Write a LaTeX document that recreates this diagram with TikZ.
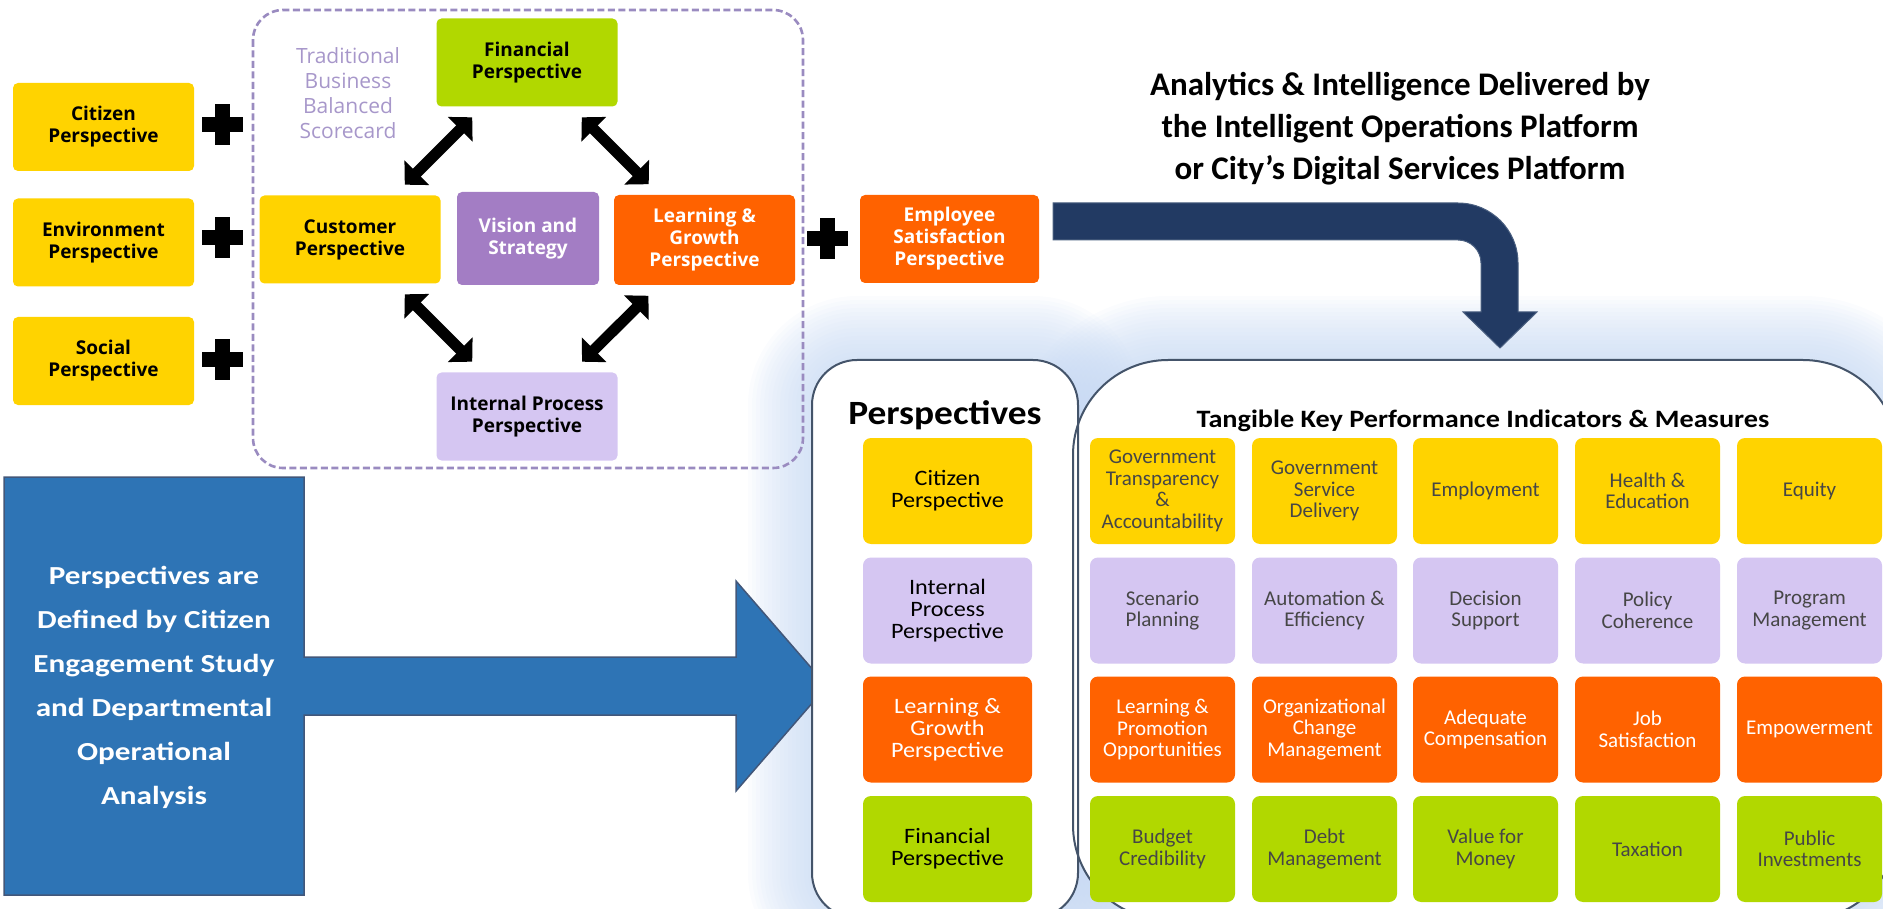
\documentclass[tikz,border=0pt]{standalone}
\usepackage{fontspec}
\setmainfont{Carlito}
\newfontfamily\osans{Open Sans}
\newfontfamily\calwide[FakeStretch=1.1]{Carlito}
\newfontfamily\calkpi[FakeStretch=1.13]{Carlito}
\newfontfamily\calblue[FakeStretch=1.2]{Carlito}
\usetikzlibrary{arrows.meta}

\definecolor{bscyellow}{HTML}{FFD300}
\definecolor{bscgreen}{HTML}{B1D800}
\definecolor{bscorange}{HTML}{FF6200}
\definecolor{bsclilac}{HTML}{D5C6F2}
\definecolor{bscpurple}{HTML}{A37DC4}
\definecolor{tradtext}{HTML}{A797CA}
\definecolor{dashline}{HTML}{9A8BC0}
\definecolor{kpitext}{HTML}{464646}
\definecolor{panelline}{HTML}{44546A}
\definecolor{glowblue}{HTML}{C3D6F2}
\definecolor{navyarrow}{HTML}{223A63}
\definecolor{navyline}{HTML}{4A5F80}
\definecolor{callblue}{HTML}{2E74B5}
\definecolor{callline}{HTML}{42577A}

\tikzset{
	bscbox/.style={rectangle, rounded corners=5pt, minimum width=181pt, minimum height=88pt,
		inner sep=0pt, align=center, font=\osans\bfseries\fontsize{19}{22}\selectfont},
	kpibox/.style={rectangle, rounded corners=8pt, minimum width=145pt, minimum height=106pt,
		inner sep=0pt, align=center, text=kpitext, font=\fontsize{21}{21.5}\selectfont},
	perbox/.style={kpibox, minimum width=169pt, text=black, font=\calwide\fontsize{22}{22}\selectfont},
	dblarrow/.style={line width=11pt, {Triangle[width=34pt,length=17pt]}-{Triangle[width=34pt,length=17pt]},
		shorten <=15pt, shorten >=15pt},
	pics/plussign/.style={code={
		\fill (-20.5,-7.5) rectangle (20.5,7.5);
		\fill (-7.5,-20.5) rectangle (7.5,20.5);
	}}
}

\begin{document}
\begin{tikzpicture}[x=1pt,y=-1pt]
	\useasboundingbox (0,0) rectangle (1883,909);
	\clip (0,0) rectangle (1883,909);

	% soft glow behind the panels
	\foreach \d in {4,8,...,64} {
		\pgfmathsetmacro\rca{45+\d}
		\pgfmathsetmacro\rcb{95+\d}
		\fill[glowblue, opacity=0.065, rounded corners=\rca pt] ({812-\d},{360-\d}) rectangle ({1078+\d},{918+\d});
		\fill[glowblue, opacity=0.065, rounded corners=\rcb pt] ({1073-\d},{360-\d}) rectangle ({1898+\d},{920+\d});
	}

	% balanced scorecard
	\draw[dashline, line width=2.6pt, dash pattern=on 7pt off 3.5pt, rounded corners=30pt] (253,10) rectangle (803,468);
	\node[text=tradtext, align=center, font=\osans\fontsize{21}{25}\selectfont] (trad) at (348,93) {Traditional\\Business\\Balanced\\Scorecard};

	\begin{scope}[every node/.style={bscbox}]
		\node[fill=bscyellow] (citizen) at (103.5,127) {Citizen\\Perspective};
		\node[fill=bscyellow] (environ) at (103.5,242.5) {Environment\\Perspective};
		\node[fill=bscyellow] (social) at (103.5,361) {Social\\Perspective};
		\node[fill=bscgreen] (fin) at (527,62.5) {Financial\\Perspective};
		\node[fill=bscyellow] (cust) at (350,239.5) {Customer\\Perspective};
		\node[fill=bscpurple, text=white, minimum width=142pt, minimum height=93pt] (vision) at (528,238.5) {Vision and\\Strategy};
		\node[fill=bscorange, text=white, minimum height=90pt] (learn) at (704.5,240) {Learning \&\\Growth\\Perspective};
		\node[fill=bsclilac] (internal) at (527,416.5) {Internal Process\\Perspective};
		\node[fill=bscorange, text=white, minimum width=179pt] (employee) at (949.5,239) {Employee\\Satisfaction\\Perspective};
	\end{scope}

	\draw[dblarrow] (fin) -- (cust);
	\draw[dblarrow] (fin) -- (learn);
	\draw[dblarrow] (cust) -- (internal);
	\draw[dblarrow] (learn) -- (internal);

	\pic at (222,125) {plussign};
	\pic at (222,238) {plussign};
	\pic at (222,360) {plussign};
	\pic at (827,239) {plussign};

	% platform arrow
	\node[font=\bfseries\fontsize{33}{42}\selectfont, align=center] (platform) at (1400,129)
		{Analytics \& Intelligence Delivered by\\the Intelligent Operations Platform\\or City’s Digital Services Platform};
	\draw[navyline, fill=navyarrow, line width=1pt] (1053,203) -- (1458,203) arc[start angle=-90, end angle=0, radius=60]
		-- (1518,312) -- (1537,312) -- (1500,348) -- (1463,312) -- (1481,312) -- (1481,263)
		arc[start angle=0, end angle=-90, radius=23] -- (1053,240) -- cycle;

	% citizen engagement callout
	\draw[callline, fill=callblue, line width=1.5pt] (4,477) -- (304,477) -- (304,657) -- (736,657) -- (736,581)
		-- (827,686) -- (736,791) -- (736,715) -- (304,715) -- (304,895) -- (4,895) -- cycle;
	\node[text=white, align=center, font=\calblue\bfseries\fontsize{26}{44}\selectfont] (engage) at (154,687)
		{Perspectives are\\Defined by Citizen\\Engagement Study\\and Departmental\\Operational\\Analysis};

	% panels
	\fill[white, rounded corners=45pt] (812,360) rectangle (1078,918);
	\fill[white, rounded corners=95pt] (1073,360) rectangle (1898,920);
	\draw[panelline, line width=2pt, rounded corners=45pt] (812,360) rectangle (1078,918);
	\draw[panelline, line width=2pt, rounded corners=95pt] (1073,360) rectangle (1898,920);

	\node[font=\calwide\bfseries\fontsize{34}{34}\selectfont] (pertitle) at (945,415) {Perspectives};
	\node[font=\calkpi\bfseries\fontsize{25}{25}\selectfont] (kpititle) at (1483,421) {Tangible Key Performance Indicators \& Measures};

	\begin{scope}[every node/.style={perbox}]
		\node[fill=bscyellow] (p1) at (947.5,491) {Citizen\\Perspective};
		\node[fill=bsclilac] (p2) at (947.5,610.5) {Internal\\Process\\Perspective};
		\node[fill=bscorange, text=white] (p3) at (947.5,729.5) {Learning \&\\Growth\\Perspective};
		\node[fill=bscgreen] (p4) at (947.5,849) {Financial\\Perspective};
	\end{scope}

	\begin{scope}[every node/.style={kpibox}]
		\node[fill=bscyellow] (k11) at (1162.5,491) {Government\\Transparency\\\&\\Accountability};
		\node[fill=bscyellow] (k12) at (1324.5,491) {Government\\Service\\Delivery};
		\node[fill=bscyellow] (k13) at (1485.5,491) {Employment};
		\node[fill=bscyellow] (k14) at (1647.5,491) {Health \&\\Education};
		\node[fill=bscyellow] (k15) at (1809.5,491) {Equity};
		\node[fill=bsclilac] (k21) at (1162.5,610.5) {Scenario\\Planning};
		\node[fill=bsclilac] (k22) at (1324.5,610.5) {Automation \&\\Efficiency};
		\node[fill=bsclilac] (k23) at (1485.5,610.5) {Decision\\Support};
		\node[fill=bsclilac] (k24) at (1647.5,610.5) {Policy\\Coherence};
		\node[fill=bsclilac] (k25) at (1809.5,610.5) {Program\\Management};
		\node[fill=bscorange, text=white] (k31) at (1162.5,729.5) {Learning \&\\Promotion\\Opportunities};
		\node[fill=bscorange, text=white] (k32) at (1324.5,729.5) {Organizational\\Change\\Management};
		\node[fill=bscorange, text=white] (k33) at (1485.5,729.5) {Adequate\\Compensation};
		\node[fill=bscorange, text=white] (k34) at (1647.5,729.5) {Job\\Satisfaction};
		\node[fill=bscorange, text=white] (k35) at (1809.5,729.5) {Empowerment};
		\node[fill=bscgreen] (k41) at (1162.5,849) {Budget\\Credibility};
		\node[fill=bscgreen] (k42) at (1324.5,849) {Debt\\Management};
		\node[fill=bscgreen] (k43) at (1485.5,849) {Value for\\Money};
		\node[fill=bscgreen] (k44) at (1647.5,849) {Taxation};
		\node[fill=bscgreen] (k45) at (1809.5,849) {Public\\Investments};
	\end{scope}
\end{tikzpicture}
\end{document}
